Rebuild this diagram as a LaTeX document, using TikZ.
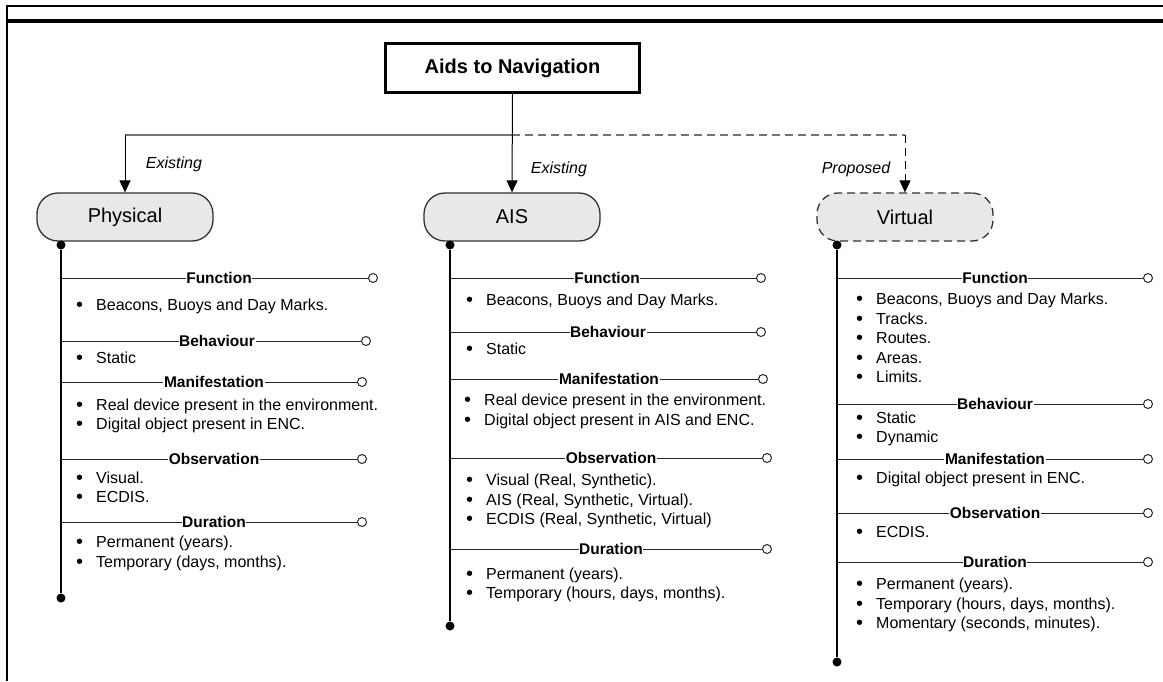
\documentclass[tikz,border=0pt]{standalone}
\usepackage{fontspec}
\setmainfont{Liberation Sans}
\usetikzlibrary{arrows.meta}
\newcommand\hdr[6]{%
  \node[ocirc] (#1c) at (#4,#3) {};
  \draw[hline] (#2 |- #1c) -- (#1c);
  \node[hdrlbl] (#1) at (#5,#3) {#6};}
\newcommand\itm[4]{%
  \fill[black] ({#2-16.5},{#3+0.3}) circle (2.7pt);
  \node[itemtxt] (#1) at (#2,{#3+6}) {#4};}
\begin{document}
\begin{tikzpicture}[x=1pt,y=-1pt,
  cat/.style={draw=black!80, fill=black!9, rounded corners=21pt, minimum width=176pt,
    minimum height=48pt, line width=1.3pt, inner sep=0,
    font=\fontsize{20}{24}\selectfont},
  topbox/.style={draw=black, line width=3pt, minimum width=254pt, minimum height=49pt,
    inner sep=0, font=\bfseries\fontsize{20}{24}\selectfont},
  arr/.style={-{Triangle[width=11pt,length=12pt]}, line width=1pt, black},
  hub/.style={line width=1.6pt, black!55},
  tag/.style={font=\itshape\fontsize{16}{19}\selectfont, inner sep=0},
  dot/.style={circle, fill=black, inner sep=0, minimum size=9pt},
  ocirc/.style={circle, draw=black!85, fill=white, line width=1pt, inner sep=0, minimum size=9pt},
  hline/.style={line width=1pt, black!85},
  hdrlbl/.style={fill=white, inner sep=0.6pt, font=\bfseries\fontsize{15.5}{18}\selectfont},
  itemtxt/.style={anchor=base west, inner sep=0, font=\fontsize{16}{19}\selectfont},
  spine/.style={line width=1.5pt, black}]
\useasboundingbox (0,0) rectangle (1163,681);
% frame
\draw[line width=2pt] (7,6) -- (1163,6);
\draw[line width=4pt] (7,21) -- (1163,21);
\draw[line width=2.5pt] (7,5) -- (7,681);
% top node
\node[topbox] (top) at (512.5,68) {Aids to Navigation};
% category nodes
\node[cat] (phys) at (125,217) {Physical};
\node[cat] (ais) at (512,217) {AIS};
\node[cat, dash pattern=on 8pt off 5pt] (virt) at (905,217) {Virtual};
% connectors
\coordinate (hubc) at (512,135);
\draw[hub] (hubc) -- (phys.north |- hubc);
\draw[hub, dash pattern=on 8pt off 5pt] (hubc) -- (virt.north |- hubc);
\draw[arr] (phys.north |- hubc) -- (phys.north);
\draw[arr, dash pattern=on 8pt off 5pt] (virt.north |- hubc) -- (virt.north);
\draw[arr] (top.south) -- (ais.north);
\node[tag] (t1) at (174,164) {Existing};
\node[tag] (t2) at (559,169) {Existing};
\node[tag] (t3) at (856,169) {Proposed};
% spines
\node[dot] (pt) at (61,245) {};
\node[dot] (pb) at (61,598) {};
\node[dot] (at) at (450,245) {};
\node[dot] (ab) at (450,626) {};
\node[dot] (vt) at (837,245) {};
\node[dot] (vb) at (837,662) {};
\draw[spine] (pt) -- (pb);
\draw[spine] (at) -- (ab);
\draw[spine] (vt) -- (vb);
% Physical
\hdr{p1}{pt}{278}{373}{219}{Function}
\hdr{p2}{pt}{341}{366}{217}{Behaviour}
\hdr{p3}{pt}{382}{362}{214}{Manifestation}
\hdr{p4}{pt}{459}{362}{214}{Observation}
\hdr{p5}{pt}{522}{362}{214}{Duration}
\itm{pa}{96}{304}{Beacons, Buoys and Day Marks.}
\itm{pb1}{96}{357}{Static}
\itm{pc}{96}{404}{Real device present in the environment.}
\itm{pd}{96}{423}{Digital object present in ENC.}
\itm{pe}{96}{477}{Visual.}
\itm{pf}{96}{496}{ECDIS.}
\itm{pg}{96}{541}{Permanent (years).}
\itm{ph}{96}{561}{Temporary (days, months).}
% AIS
\hdr{a1}{at}{278}{761}{607}{Function}
\hdr{a2}{at}{332}{761}{608}{Behaviour}
\hdr{a3}{at}{379}{763}{609}{Manifestation}
\hdr{a4}{at}{458}{767}{611}{Observation}
\hdr{a5}{at}{549}{767}{611}{Duration}
\itm{aa}{486}{299}{Beacons, Buoys and Day Marks.}
\itm{ab1}{486}{348}{Static}
\itm{ac}{484}{399}{Real device present in the environment.}
\itm{ad}{484}{419}{Digital object present in AIS and ENC.}
\itm{ae}{486}{479}{Visual (Real, Synthetic).}
\itm{af}{486}{499}{AIS (Real, Synthetic, Virtual).}
\itm{ag}{486}{518}{ECDIS (Real, Synthetic, Virtual)}
\itm{ah}{486}{573}{Permanent (years).}
\itm{ai}{486}{592}{Temporary (hours, days, months).}
% Virtual
\hdr{v1}{vt}{278}{1148}{995}{Function}
\hdr{v2}{vt}{404}{1148}{995}{Behaviour}
\hdr{v3}{vt}{459}{1148}{995}{Manifestation}
\hdr{v4}{vt}{513}{1148}{995}{Observation}
\hdr{v5}{vt}{562}{1148}{995}{Duration}
\itm{va}{876}{298}{Beacons, Buoys and Day Marks.}
\itm{vb1}{876}{318}{Tracks.}
\itm{vc}{876}{337}{Routes.}
\itm{vd}{876}{357}{Areas.}
\itm{ve}{876}{376}{Limits.}
\itm{vf}{876}{417}{Static}
\itm{vg}{876}{436}{Dynamic}
\itm{vh}{876}{477}{Digital object present in ENC.}
\itm{vi}{876}{531}{ECDIS.}
\itm{vj}{876}{583}{Permanent (years).}
\itm{vk}{876}{603}{Temporary (hours, days, months).}
\itm{vl}{876}{622}{Momentary (seconds, minutes).}
\end{tikzpicture}
\end{document}
